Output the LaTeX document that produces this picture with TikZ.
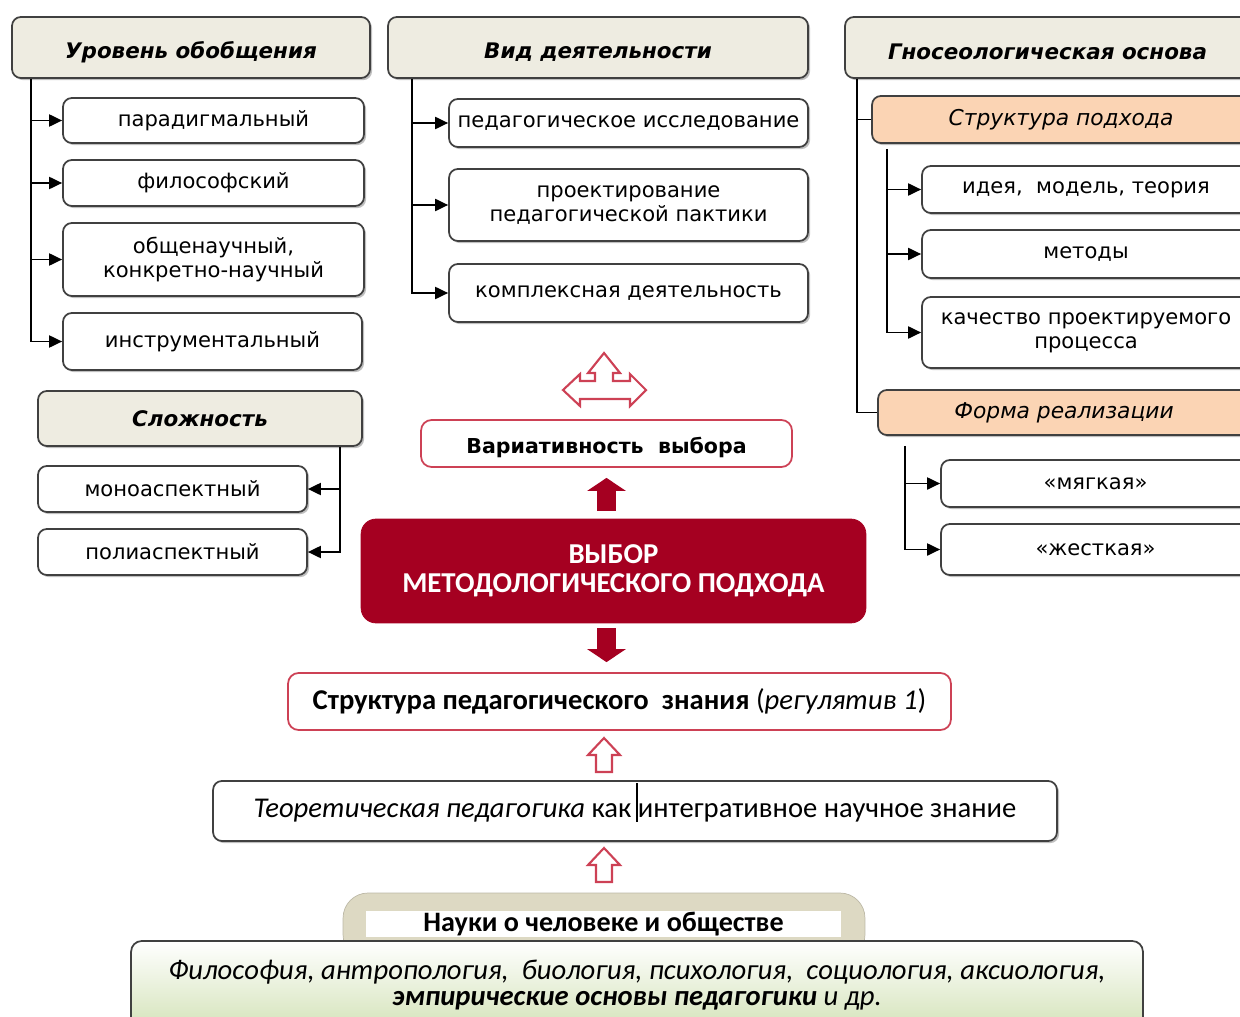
\documentclass[tikz,border=0pt]{standalone}
\usepackage{fontspec}
\setmainfont{DejaVu Sans}
\newfontfamily\calfont{Carlito}
\usepackage{xcolor}
\definecolor{headbeige}{RGB}{238,236,225}
\definecolor{peach}{RGB}{251,212,180}
\definecolor{wine}{RGB}{165,0,33}
\definecolor{rosered}{RGB}{205,65,85}
\definecolor{frame}{RGB}{64,64,64}
\definecolor{olivepill}{RGB}{221,217,195}
\definecolor{leafgreen}{RGB}{212,227,185}
\usepackage{tikz}
\usetikzlibrary{
    arrows.meta,
    positioning,
    calc,
    shadows
}

\begin{document}
\begin{tikzpicture}[
    x=0.02cm, y=-0.02cm,
    every text node part/.style={align=center},
    box/.style={draw=frame, line width=1pt, rounded corners=5pt, fill=white, inner sep=0pt,
        drop shadow={shadow xshift=1.2pt, shadow yshift=-1.2pt, fill=black, opacity=0.25}},
    headbox/.style={box, fill=headbeige, font=\fontsize{12.2}{15}\selectfont\bfseries\itshape},
    subhead/.style={box, fill=peach, font=\fontsize{12.4}{14}\selectfont\itshape},
    itembox/.style={box, font=\fontsize{12}{13.6}\selectfont},
    redbox/.style={draw=rosered, line width=1pt, rounded corners=6pt, fill=white, inner sep=0pt},
    trunk/.style={line width=1.1pt, draw=black},
    link/.style={trunk, -{Triangle[length=0.26cm, width=0.24cm]}},
    blockarrow/.style={draw=wine, line width=0.38cm, -{Triangle[length=0.26cm, width=0.76cm]}},
    hollow/.style={draw=rosered, line width=1.2pt, fill=white, line join=miter}
]
\useasboundingbox (0,0) rectangle (1240,1017);

% Уровень обобщения
\node[headbox, minimum width=7.16cm, minimum height=1.22cm] (lvl) at (191,47.5) {\raisebox{-2.5pt}[\height][\depth]{Уровень обобщения}};
\node[itembox, minimum width=6.02cm, minimum height=0.9cm] (parad) at (213.5,120.5) {парадигмальный};
\node[itembox, minimum width=6.02cm, minimum height=0.92cm] (philo) at (213.5,183) {философский};
\node[itembox, minimum width=6.02cm, minimum height=1.46cm] (gensci) at (213.5,259.5) {общенаучный,\\конкретно-научный};
\node[itembox, minimum width=5.98cm, minimum height=1.14cm] (instr) at (212.5,341.5) {инструментальный};

\coordinate (lvltop) at ($(lvl.south west)+(20,0)$);
\draw[link] (lvltop) |- (instr);
\foreach \n in {parad, philo, gensci}
    \draw[link] (lvltop |- \n) -- (\n);

% Вид деятельности
\node[headbox, minimum width=8.4cm, minimum height=1.22cm] (act) at (598,47.5) {\raisebox{-2.5pt}[\height][\depth]{Вид деятельности}};
\node[itembox, minimum width=7.18cm, minimum height=0.96cm] (research) at (628.5,123) {педагогическое исследование};
\node[itembox, minimum width=7.18cm, minimum height=1.44cm] (design) at (628.5,205) {проектирование\\педагогической пактики};
\node[itembox, minimum width=7.18cm, minimum height=1.16cm] (complex) at (628.5,293) {комплексная деятельность};

\coordinate (acttop) at ($(act.south west)+(25,0)$);
\draw[link] (acttop) |- (complex);
\foreach \n in {research, design}
    \draw[link] (acttop |- \n) -- (\n);

% Гносеологическая основа
\node[headbox, minimum width=8.1cm, minimum height=1.22cm] (gno) at (1047.5,47.5) {\raisebox{-2.5pt}[\height][\depth]{Гносеологическая основа}};
\node[subhead, minimum width=7.56cm, minimum height=0.94cm] (struct) at (1061,119.5) {Структура подхода};
\node[itembox, minimum width=6.56cm, minimum height=0.94cm] (idea) at (1086,189.5) {идея,\ \ модель, теория};
\node[itembox, minimum width=6.56cm, minimum height=0.96cm] (methods) at (1086,254) {методы};
\node[itembox, minimum width=6.56cm, minimum height=1.42cm] (quality) at (1086,332.5) {качество проектируемого\\процесса};
\node[subhead, minimum width=7.44cm, minimum height=0.9cm] (form) at (1064,412.5) {Форма реализации};
\node[itembox, minimum width=6.18cm, minimum height=0.94cm] (soft) at (1095.5,483.5) {«мягкая»};
\node[itembox, minimum width=6.18cm, minimum height=1.02cm] (hard) at (1095.5,549.5) {«жесткая»};

\coordinate (gnotop) at ($(gno.south west)+(13,0)$);
\draw[trunk] (gnotop) |- (form);
\draw[trunk] (gnotop |- struct) -- (struct);

\coordinate (structtop) at ($(struct.south west)+(16,5)$);
\draw[link] (structtop) |- (quality);
\foreach \n in {idea, methods}
    \draw[link] (structtop |- \n) -- (\n);

\coordinate (formtop) at ($(form.south west)+(28,10)$);
\draw[link] (formtop) |- (hard);
\draw[link] (formtop |- soft) -- (soft);

% Сложность
\node[headbox, minimum width=6.48cm, minimum height=1.1cm] (cplx) at (200,418.5) {Сложность};
\node[itembox, minimum width=5.38cm, minimum height=0.92cm] (mono) at (172.5,489) {моноаспектный};
\node[itembox, minimum width=5.38cm, minimum height=0.92cm] (poly) at (172.5,552) {полиаспектный};

\coordinate (cplxtop) at ($(cplx.south east)+(-23,0)$);
\draw[link] (cplxtop) |- (poly);
\draw[link] (cplxtop |- mono) -- (mono);

% Выбор подхода
\draw[hollow] (604,353) -- (620,373) -- (613,373) -- (613,381) -- (630,381) -- (630,374) -- (646,390)
    -- (630,406) -- (630,399) -- (580,399) -- (580,406) -- (563,390) -- (580,374) -- (580,381)
    -- (595,381) -- (595,373) -- (588,373) -- cycle;
\node[redbox, minimum width=7.42cm, minimum height=0.94cm, font=\fontsize{11.7}{14}\selectfont\bfseries] (var) at (606.5,443.5) {\raisebox{-2pt}[\height][\depth]{Вариативность\ \ выбора}};
\node[fill=wine, draw=wine, rounded corners=0.3cm, minimum width=10.1cm, minimum height=2.08cm, inner sep=0pt,
    text=white, font=\calfont\fontsize{16.4}{16.6}\selectfont\bfseries] (choice) at (613.5,571) {ВЫБОР\\МЕТОДОЛОГИЧЕСКОГО ПОДХОДА};

\draw[blockarrow, shorten <=0.16cm, shorten >=0.2cm] (var.south |- choice.north) -- (var.south);
\node[redbox, minimum width=13.26cm, minimum height=1.14cm, font=\calfont\fontsize{16.3}{17}\selectfont] (know) at (619.5,701.5)
    {\textbf{Структура педагогического\ \ знания} (\textit{регулятив 1})};
\draw[blockarrow, shorten <=0.1cm, shorten >=0.2cm] (var.south |- choice.south) -- (var.south |- know.north);

% Основания
\node[box, minimum width=16.88cm, minimum height=1.2cm, font=\calfont\fontsize{16.3}{17}\selectfont] (theo) at (635,811)
    {\textit{Теоретическая педагогика} как интегративное научное знание};
\draw[line width=1.3pt] (637,783) -- (637,822);
\draw[hollow] (604,738) -- (620,755) -- (612,755) -- (612,772) -- (596,772) -- (596,755) -- (588,755) -- cycle;
\draw[hollow] (604,848) -- (620,865) -- (612,865) -- (612,882) -- (596,882) -- (596,865) -- (588,865) -- cycle;

\node[fill=olivepill, draw=olivepill!85!black, rounded corners=0.5cm, minimum width=10.44cm, minimum height=1.34cm] (sciback) at (604,926.5) {};
\node[fill=white, minimum width=9.5cm, minimum height=0.52cm, inner sep=0pt, font=\calfont\fontsize{16}{17}\selectfont\bfseries] (sci) at (603.5,924) {Науки о человеке и обществе};
\node[draw=frame, line width=1pt, rounded corners=6pt, top color=white, bottom color=leafgreen, inner sep=0pt,
    minimum width=20.24cm, minimum height=1.78cm, font=\calfont\fontsize{16.3}{14.7}\selectfont\itshape] (disc) at (637,985.5)
    {Философия, антропология,\ \ биология, психология,\ \ социология, аксиология,\\\textbf{эмпирические основы педагогики} и др.};

\end{tikzpicture}
\end{document}
